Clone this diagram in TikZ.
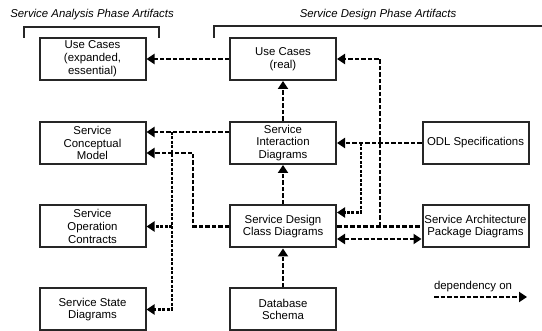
\documentclass[tikz,border=0pt]{standalone}
\usepackage{fontspec}
\setmainfont{Liberation Sans}
\usetikzlibrary{arrows.meta}
\tikzset{
  artifact/.style={draw=black!85,line width=2pt,minimum width=106pt,minimum height=42pt,
    align=center,inner sep=1pt,font=\fontsize{11.4}{12.8}\selectfont},
  phase/.style={font=\fontsize{11.4}{13}\selectfont\itshape},
  dep/.style={line width=2.6pt,dash pattern=on 4.5pt off 2pt,-{Triangle[length=8pt,width=10pt]}},
  depfine/.style={dep,dash pattern=on 3pt off 1.5pt},
  depboth/.style={dep,{Triangle[length=8pt,width=10pt]}-{Triangle[length=8pt,width=10pt]}}
}
\begin{document}
\begin{tikzpicture}[x=1pt,y=-1pt]
      \useasboundingbox (0,0) rectangle (542,331);
      \draw
        (92.5,59) node[artifact] (uce){Use Cases\\(expanded,\\essential)}
        (92.5,143) node[artifact] (scm){Service\\Conceptual\\Model}
        (92.5,226.5) node[artifact] (soc){Service\\Operation\\Contracts}
        (92.5,309.5) node[artifact] (ssd){Service State\\Diagrams}
        (283,59) node[artifact] (ucr){Use Cases\\(real)}
        (283,143) node[artifact] (sid){Service\\Interaction\\Diagrams}
        (283,226.5) node[artifact] (sdcd){Service Design\\Class Diagrams}
        (283,309.5) node[artifact] (dbs){Database\\Schema}
        (475.5,143) node[artifact] (odl){ODL Specifications}
        (475.5,226.5) node[artifact] (pkg){Service Architecture\\Package Diagrams};
      \draw
        (92,15) node[phase] (anl){Service Analysis Phase Artifacts}
        (378,15) node[phase] (dsg){Service Design Phase Artifacts}
        (473,287) node[font=\fontsize{11.4}{13}\selectfont] (leg){dependency on};
      \draw[line width=2pt,black!85] (24,38) -- (24,27) -- (159,27) -- (159,38);
      \draw[line width=2pt,black!85] (214,38) -- (214,26) -- (542,26);
      \coordinate (j1) at (172,132);
      \coordinate (j2) at (361,143);
      \coordinate (j3) at (380,226.5);
      \coordinate (k1) at (193,153);
      \coordinate (l1) at (434,297);
      \coordinate (l2) at (527,297);
      \begin{scope}[dep]
        \draw (ucr) to (uce);
        \draw (sid) to (ucr);
        \draw (odl) to (sid);
        \draw ([yshift=11pt]sid.west) to ([yshift=11pt]scm.east);
        \draw (sdcd.west) -| (k1) -- ([yshift=-10pt]scm.east);
        \draw (sdcd) to (sid);
        \draw (dbs) to (sdcd);
        \draw (j3) |- (ucr.east);
        \draw[-] (sdcd) to (pkg);
        \draw[depfine] (j1) |- (soc.east);
        \draw[depfine] (j1) |- (ssd.east);
        \draw[depfine] (j2) |- ([yshift=14pt]sdcd.east);
        \draw[depboth] ([yshift=-12.5pt]sdcd.east) to ([yshift=-12.5pt]pkg.west);
        \draw (l1) to (l2);
      \end{scope}
    \end{tikzpicture}
\end{document}
